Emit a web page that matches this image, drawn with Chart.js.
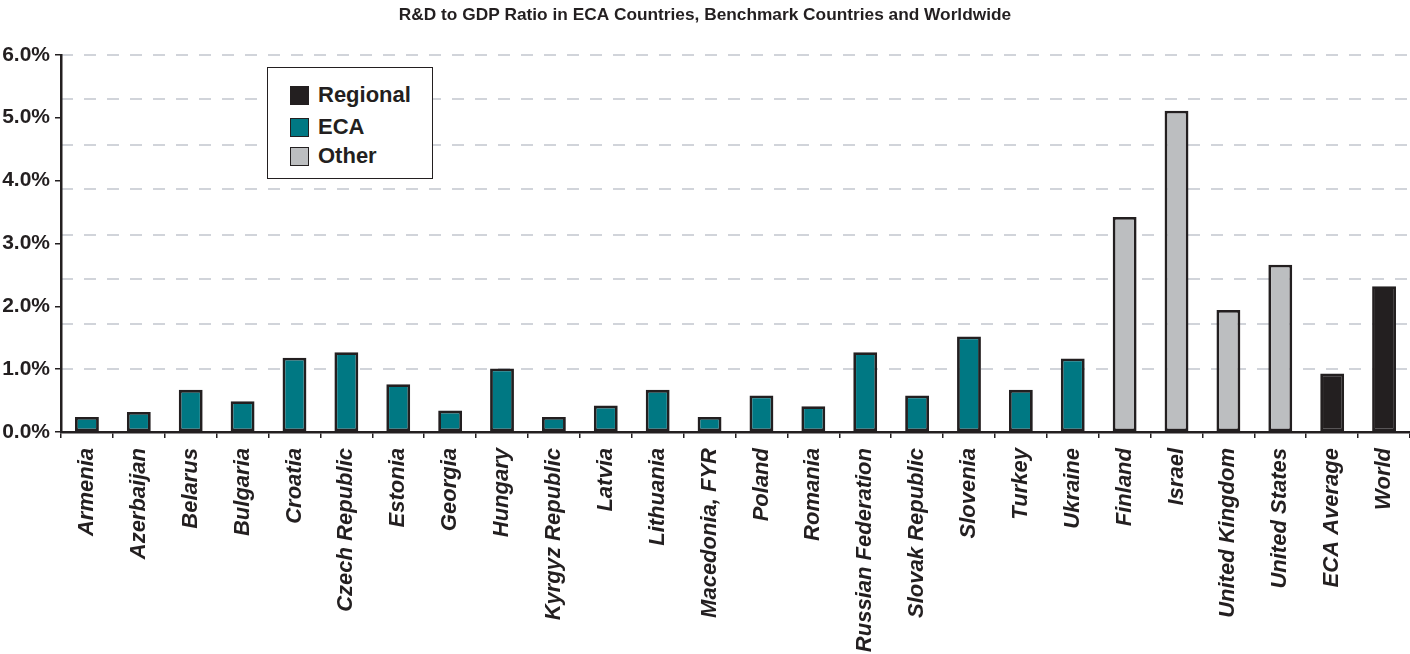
<!DOCTYPE html>
<html>
<head>
<meta charset="utf-8">
<script src="https://cdn.jsdelivr.net/npm/chart.js@4.4.1/dist/chart.umd.min.js"></script>
<style>
  body { margin: 0; background: #fff; }
  #wrap { position: relative; width: 1410px; height: 654px; }
  #legend {
    position: absolute; left: 267px; top: 67px; width: 164px; height: 110px;
    border: 1.5px solid #231f20; background: #fff;
    font: bold 22px 'Liberation Sans', Arial, sans-serif; color: #231f20;
  }
  #legend .item { position: absolute; left: 22px; height: 26px; display: flex; align-items: center; }
  #legend .sw { width: 17px; height: 17px; border: 1.5px solid #231f20; margin-right: 9px; }
</style>
</head>
<body>
<div id="wrap">
  <canvas id="chart" width="1410" height="654"></canvas>
  <div id="legend"></div>
</div>
<script>
// カテゴリ（国・地域）
const countries = [
  'Armenia', 'Azerbaijan', 'Belarus', 'Bulgaria', 'Croatia', 'Czech Republic',
  'Estonia', 'Georgia', 'Hungary', 'Kyrgyz Republic', 'Latvia', 'Lithuania',
  'Macedonia, FYR', 'Poland', 'Romania', 'Russian Federation', 'Slovak Republic',
  'Slovenia', 'Turkey', 'Ukraine', 'Finland', 'Israel', 'United Kingdom',
  'United States', 'ECA Average', 'World',
];

// R&D / GDP (%)
const rdRatio = [
  0.24, 0.32, 0.67, 0.49, 1.18, 1.27,
  0.76, 0.34, 1.01, 0.24, 0.42, 0.67,
  0.24, 0.58, 0.41, 1.27, 0.58,
  1.52, 0.67, 1.17, 3.42, 5.11, 1.94,
  2.66, 0.93, 2.32,
];

// 各カテゴリのグループ
const groups = [
  'ECA', 'ECA', 'ECA', 'ECA', 'ECA', 'ECA',
  'ECA', 'ECA', 'ECA', 'ECA', 'ECA', 'ECA',
  'ECA', 'ECA', 'ECA', 'ECA', 'ECA',
  'ECA', 'ECA', 'ECA', 'Other', 'Other', 'Other',
  'Other', 'Regional', 'Regional',
];

const seriesNames = ['Regional', 'ECA', 'Other'];
const seriesColors = ['#231f20', '#007883', '#bcbec0'];

// 破線グリッドの位置（目盛とは別）
const gridLevels = [1.0, 1.71, 2.43, 3.14, 3.86, 4.57, 5.29, 6.0];

const INK = '#231f20';
const FONT = "'Liberation Sans', Arial, sans-serif";

const datasets = seriesNames.map((name, i) => ({
  label: name,
  data: rdRatio.map((v, j) => (groups[j] === name ? v : null)),
  backgroundColor: seriesColors[i],
  borderColor: INK,
  borderWidth: 2.8,
  borderSkipped: false,
}));

const ctx = document.getElementById('chart').getContext('2d');

const chart = new Chart(ctx, {
  type: 'bar',
  data: { labels: countries, datasets },
  options: {
    responsive: false,
    animation: false,
    layout: { padding: 0 },
    datasets: {
      bar: { grouped: false, barPercentage: 0.46, categoryPercentage: 1.0 },
    },
    scales: {
      x: {
        offset: true,
        grid: {
          offset: true,
          drawOnChartArea: false,
          drawTicks: true,
          tickLength: 6,
          color: INK,
          lineWidth: 1.5,
        },
        border: { display: true, color: INK, width: 2.5 },
        ticks: {
          autoSkip: false,
          minRotation: 90,
          maxRotation: 90,
          padding: 10,
          color: INK,
          font: { family: FONT, size: 22, weight: 'bold', style: 'italic' },
        },
        afterFit: (scale) => {
          scale.height = 222;
          scale.paddingLeft = 0;
          scale.paddingRight = 0;
        },
      },
      y: {
        min: 0,
        max: 6,
        ticks: {
          stepSize: 1,
          padding: 5,
          color: INK,
          font: { family: FONT, size: 21, weight: 'bold' },
          callback: (v) => v.toFixed(1) + '%',
        },
        grid: {
          drawOnChartArea: false,
          drawTicks: true,
          tickLength: 6,
          color: INK,
          lineWidth: 1.5,
        },
        border: { display: true, color: INK, width: 2.5 },
        afterFit: (scale) => { scale.width = 61; },
      },
      yGrid: {
        position: 'left',
        min: 0,
        max: 6,
        ticks: { display: false },
        grid: {
          drawTicks: false,
          color: '#d1d4da',
          lineWidth: 2,
        },
        border: { display: false, dash: [12, 11] },
        afterBuildTicks: (scale) => { scale.ticks = gridLevels.map(v => ({ value: v })); },
        afterFit: (scale) => { scale.width = 0; },
      },
    },
    plugins: {
      legend: { display: false },
      tooltip: { enabled: false },
      title: {
        display: true,
        text: 'R&D to GDP Ratio in ECA Countries, Benchmark Countries and Worldwide',
        color: INK,
        font: { family: FONT, size: 17.3, weight: 'bold' },
        padding: { top: 5, bottom: 29 },
      },
    },
  },
});

// 凡例（チャート内に配置）
const legendEl = document.getElementById('legend');
const legendTops = [14, 46, 75];
chart.data.datasets.forEach((ds, i) => {
  const item = document.createElement('div');
  item.className = 'item';
  item.style.top = legendTops[i] + 'px';
  const sw = document.createElement('span');
  sw.className = 'sw';
  sw.style.background = ds.backgroundColor;
  item.appendChild(sw);
  item.appendChild(document.createTextNode(ds.label));
  legendEl.appendChild(item);
});
</script>
</body>
</html>
